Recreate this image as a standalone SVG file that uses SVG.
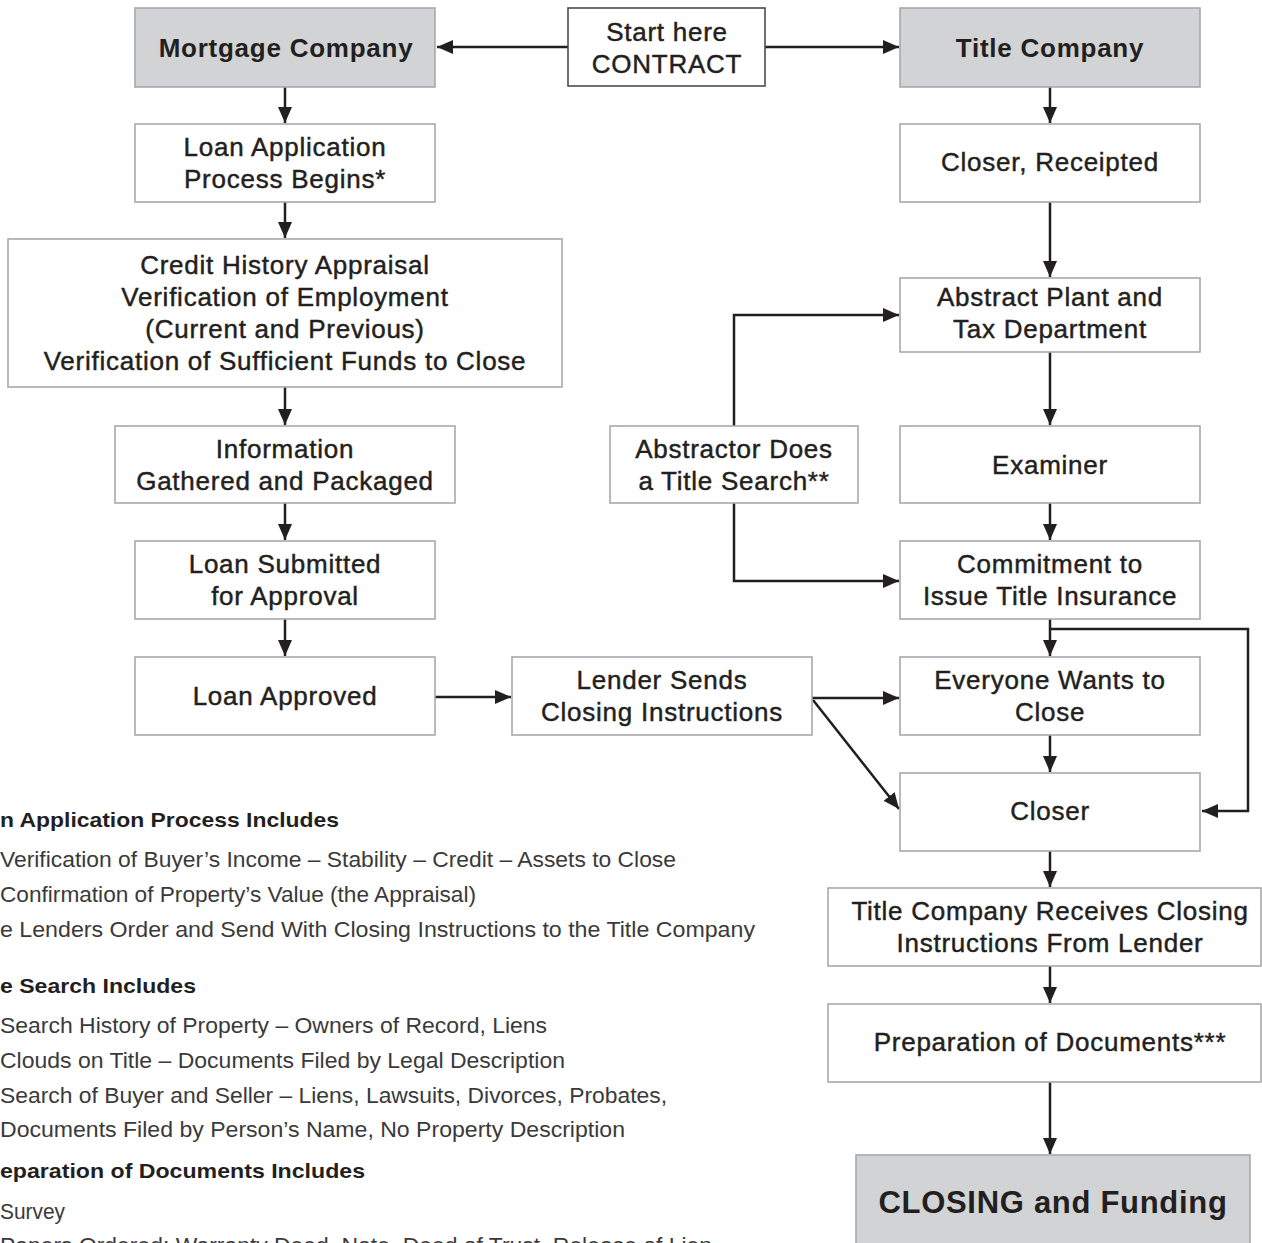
<svg xmlns="http://www.w3.org/2000/svg" width="1262" height="1243" viewBox="0 0 1262 1243">
<style>
.box{fill:#ffffff;stroke:#a7a9ac;stroke-width:1.6}
.gbox{fill:#d1d3d4;stroke:#a7a9ac;stroke-width:1.6}
.sbox{fill:#ffffff;stroke:#4d4d4f;stroke-width:1.6}
.t{font-family:"Liberation Sans",Arial,Helvetica,sans-serif;font-size:26px;letter-spacing:0.75px;text-anchor:middle;fill:#231f20;stroke:#231f20;stroke-width:0.45px}
.tb{font-family:"Liberation Sans",Arial,Helvetica,sans-serif;font-size:26px;font-weight:bold;letter-spacing:0.75px;text-anchor:middle;fill:#231f20}
.tbig{font-family:"Liberation Sans",Arial,Helvetica,sans-serif;font-size:31px;font-weight:bold;letter-spacing:0.7px;text-anchor:middle;fill:#231f20}
.c{fill:none;stroke:#231f20;stroke-width:2.5}
.nh{font-family:"Liberation Sans",Arial,Helvetica,sans-serif;font-size:21px;font-weight:bold;fill:#231f20}
.nb{font-family:"Liberation Sans",Arial,Helvetica,sans-serif;font-size:22px;fill:#3a3a3a}
</style>
<defs>
<marker id="ah" markerUnits="userSpaceOnUse" markerWidth="16" markerHeight="14" refX="16" refY="7" orient="auto">
<path d="M0,0 L16,7 L0,14 z" fill="#231f20"/>
</marker>
</defs>

<g id="connectors">
<path class="c" d="M568,47 L437,47" marker-end="url(#ah)"/>
<path class="c" d="M765,47 L899,47" marker-end="url(#ah)"/>
<path class="c" d="M285,87 L285,123" marker-end="url(#ah)"/>
<path class="c" d="M285,202 L285,238" marker-end="url(#ah)"/>
<path class="c" d="M285,387 L285,425" marker-end="url(#ah)"/>
<path class="c" d="M285,503 L285,540" marker-end="url(#ah)"/>
<path class="c" d="M285,619 L285,656" marker-end="url(#ah)"/>
<path class="c" d="M435,697 L511,697" marker-end="url(#ah)"/>
<path class="c" d="M1050,87 L1050,123" marker-end="url(#ah)"/>
<path class="c" d="M1050,202 L1050,277" marker-end="url(#ah)"/>
<path class="c" d="M1050,352 L1050,425" marker-end="url(#ah)"/>
<path class="c" d="M1050,503 L1050,540" marker-end="url(#ah)"/>
<path class="c" d="M734,426 L734,315 L899,315" marker-end="url(#ah)"/>
<path class="c" d="M734,503 L734,581 L899,581" marker-end="url(#ah)"/>
<path class="c" d="M1050,619 L1050,656" marker-end="url(#ah)"/>
<path class="c" d="M1050,629 L1248,629 L1248,811 L1202,811" marker-end="url(#ah)"/>
<path class="c" d="M812,698 L899,698" marker-end="url(#ah)"/>
<path class="c" d="M813,700 L899,809" marker-end="url(#ah)"/>
<path class="c" d="M1050,735 L1050,772" marker-end="url(#ah)"/>
<path class="c" d="M1050,851 L1050,887" marker-end="url(#ah)"/>
<path class="c" d="M1050,966 L1050,1003" marker-end="url(#ah)"/>
<path class="c" d="M1050,1082 L1050,1154" marker-end="url(#ah)"/>
</g>

<g id="start">
<rect class="sbox" x="568" y="8" width="197" height="78"/>
<text class="t" x="667" y="41">Start here</text>
<text class="t" x="667" y="73">CONTRACT</text>
</g>
<g id="mortgage-company">
<rect class="gbox" x="135" y="8" width="300" height="79"/>
<text class="tb" x="286" y="57">Mortgage Company</text>
</g>
<g id="title-company">
<rect class="gbox" x="900" y="8" width="300" height="79"/>
<text class="tb" x="1050" y="57">Title Company</text>
</g>
<g id="loan-application">
<rect class="box" x="135" y="124" width="300" height="78"/>
<text class="t" x="285" y="156">Loan Application</text>
<text class="t" x="285" y="188">Process Begins*</text>
</g>
<g id="credit-history">
<rect class="box" x="8" y="239" width="554" height="148"/>
<text class="t" x="285" y="274">Credit History Appraisal</text>
<text class="t" x="285" y="306">Verification of Employment</text>
<text class="t" x="285" y="338">(Current and Previous)</text>
<text class="t" x="285" y="370">Verification of Sufficient Funds to Close</text>
</g>
<g id="information-gathered">
<rect class="box" x="115" y="426" width="340" height="77"/>
<text class="t" x="285" y="458">Information</text>
<text class="t" x="285" y="490">Gathered and Packaged</text>
</g>
<g id="loan-submitted">
<rect class="box" x="135" y="541" width="300" height="78"/>
<text class="t" x="285" y="573">Loan Submitted</text>
<text class="t" x="285" y="605">for Approval</text>
</g>
<g id="loan-approved">
<rect class="box" x="135" y="657" width="300" height="78"/>
<text class="t" x="285" y="705">Loan Approved</text>
</g>
<g id="lender-sends">
<rect class="box" x="512" y="657" width="300" height="78"/>
<text class="t" x="662" y="689">Lender Sends</text>
<text class="t" x="662" y="721">Closing Instructions</text>
</g>
<g id="closer-receipted">
<rect class="box" x="900" y="124" width="300" height="78"/>
<text class="t" x="1050" y="171">Closer, Receipted</text>
</g>
<g id="abstract-plant">
<rect class="box" x="900" y="278" width="300" height="74"/>
<text class="t" x="1050" y="306">Abstract Plant and</text>
<text class="t" x="1050" y="338">Tax Department</text>
</g>
<g id="abstractor">
<rect class="box" x="610" y="426" width="248" height="77"/>
<text class="t" x="734" y="458">Abstractor Does</text>
<text class="t" x="734" y="490">a Title Search**</text>
</g>
<g id="examiner">
<rect class="box" x="900" y="426" width="300" height="77"/>
<text class="t" x="1050" y="474">Examiner</text>
</g>
<g id="commitment">
<rect class="box" x="900" y="541" width="300" height="78"/>
<text class="t" x="1050" y="573">Commitment to</text>
<text class="t" x="1050" y="605">Issue Title Insurance</text>
</g>
<g id="everyone-wants">
<rect class="box" x="900" y="657" width="300" height="78"/>
<text class="t" x="1050" y="689">Everyone Wants to</text>
<text class="t" x="1050" y="721">Close</text>
</g>
<g id="closer">
<rect class="box" x="900" y="773" width="300" height="78"/>
<text class="t" x="1050" y="820">Closer</text>
</g>
<g id="title-receives">
<rect class="box" x="828" y="888" width="433" height="78"/>
<text class="t" x="1050" y="920">Title Company Receives Closing</text>
<text class="t" x="1050" y="952">Instructions From Lender</text>
</g>
<g id="preparation">
<rect class="box" x="828" y="1004" width="433" height="78"/>
<text class="t" x="1050" y="1051">Preparation of Documents***</text>
</g>
<g id="closing-funding">
<rect class="gbox" x="856" y="1155" width="394" height="100"/>
<text class="tbig" x="1053" y="1213">CLOSING and Funding</text>
</g>

<g id="notes">
<text class="nh" x="0" y="827" textLength="339" lengthAdjust="spacingAndGlyphs">n Application Process Includes</text>
<text class="nb" x="0" y="867" textLength="676" lengthAdjust="spacingAndGlyphs">Verification of Buyer’s Income – Stability – Credit – Assets to Close</text>
<text class="nb" x="0" y="902" textLength="476" lengthAdjust="spacingAndGlyphs">Confirmation of Property’s Value (the Appraisal)</text>
<text class="nb" x="0" y="937" textLength="755" lengthAdjust="spacingAndGlyphs">e Lenders Order and Send With Closing Instructions to the Title Company</text>
<text class="nh" x="0" y="993" textLength="196" lengthAdjust="spacingAndGlyphs">e Search Includes</text>
<text class="nb" x="0" y="1033" textLength="547" lengthAdjust="spacingAndGlyphs">Search History of Property – Owners of Record, Liens</text>
<text class="nb" x="0" y="1068" textLength="565" lengthAdjust="spacingAndGlyphs">Clouds on Title – Documents Filed by Legal Description</text>
<text class="nb" x="0" y="1103" textLength="667" lengthAdjust="spacingAndGlyphs">Search of Buyer and Seller – Liens, Lawsuits, Divorces, Probates,</text>
<text class="nb" x="0" y="1137" textLength="625" lengthAdjust="spacingAndGlyphs">Documents Filed by Person’s Name, No Property Description</text>
<text class="nh" x="0" y="1178" textLength="365" lengthAdjust="spacingAndGlyphs">eparation of Documents Includes</text>
<text class="nb" x="0" y="1219" textLength="65" lengthAdjust="spacingAndGlyphs">Survey</text>
<text class="nb" x="0" y="1253" textLength="712" lengthAdjust="spacingAndGlyphs">Papers Ordered: Warranty Deed, Note, Deed of Trust, Release of Lien</text>
</g>
</svg>
